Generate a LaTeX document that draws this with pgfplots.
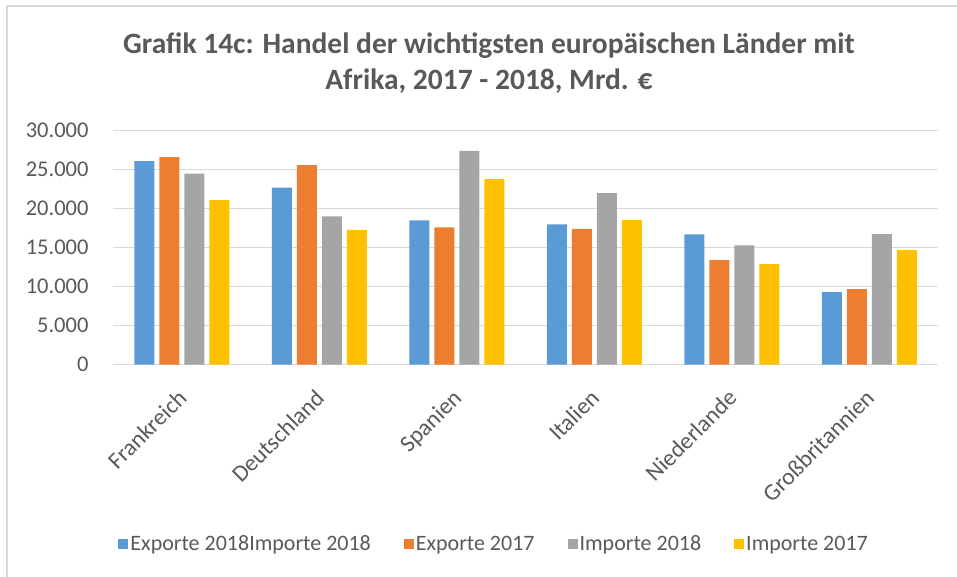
\documentclass[border=0pt]{standalone}
\usepackage{pgfplots}
\pgfplotsset{compat=1.18}
\usepackage{fontspec}
\setmainfont{Carlito}
\definecolor{txt}{HTML}{595959}
\definecolor{gridc}{HTML}{D9D9D9}
\definecolor{cblue}{HTML}{5B9BD5}
\definecolor{corange}{HTML}{ED7D31}
\definecolor{cgray}{HTML}{A5A5A5}
\definecolor{cyellow}{HTML}{FFC000}
\begin{document}
\begin{tikzpicture}[x=1pt,y=1pt]
\path[use as bounding box] (0,0) rectangle (957,577);
\draw[gridc, line width=1.5pt] (7,-5) -- (7,571) -- (965,571);
\node[anchor=base, text=txt, font=\bfseries\fontsize{29.5}{35}\selectfont] at (489,523) {Grafik 14c: Handel der wichtigsten europäischen Länder mit};
\node[anchor=base, text=txt, font=\bfseries\fontsize{29.5}{35}\selectfont] at (489,487) {Afrika, 2017 - 2018, Mrd. €};
\begin{axis}[
  at={(113pt,212.3pt)}, anchor=south west,
  scale only axis, width=825pt, height=234pt,
  xmin=-0.5, xmax=5.5, ymin=0, ymax=30000,
  ybar=5pt, bar width=20pt,
  xtick={0,1,2,3,4,5},
  xticklabels={Frankreich,Deutschland,Spanien,Italien,Niederlande,Großbritannien},
  ytick={0,5000,10000,15000,20000,25000,30000},
  scaled ticks=false,
  /pgf/number format/.cd, 1000 sep={.}, assume math mode=true, /pgfplots/.cd,
  major tick length=0pt,
  ymajorgrids, grid style={gridc, line width=1.5pt},
  axis x line*=bottom, axis y line*=left,
  y axis line style={draw=none},
  x axis line style={gridc, line width=1.5pt},
  tick label style={text=txt},
  yticklabel style={font=\fontsize{22.5}{26}\selectfont, xshift=-21pt},
  xticklabel style={font=\fontsize{23.5}{27}\selectfont, rotate=45, anchor=north east, xshift=-16.7pt, yshift=-9.3pt},
  legend columns=4,
  legend style={at={(0.462,-0.766)}, anchor=center, draw=none, fill=none,
    font=\fontsize{22}{26}\selectfont, text=txt,
    /tikz/every even column/.append style={column sep=31pt}},
  legend image code/.code={\fill[#1] (0pt,-5pt) rectangle (10pt,5pt);},
]
\addplot[fill=cblue, draw=none] coordinates {(0,26100) (1,22700) (2,18500) (3,18000) (4,16700) (5,9300)};
\addplot[fill=corange, draw=none] coordinates {(0,26600) (1,25600) (2,17600) (3,17400) (4,13400) (5,9700)};
\addplot[fill=cgray, draw=none] coordinates {(0,24500) (1,19000) (2,27400) (3,22000) (4,15300) (5,16750)};
\addplot[fill=cyellow, draw=none] coordinates {(0,21100) (1,17300) (2,23800) (3,18550) (4,12900) (5,14700)};
\legend{Exporte 2018Importe 2018, Exporte 2017, Importe 2018, Importe 2017}
\end{axis}
\end{tikzpicture}
\end{document}
